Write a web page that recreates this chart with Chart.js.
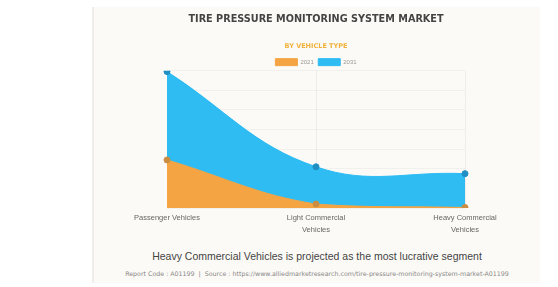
<!DOCTYPE html>
<html>
<head>
<meta charset="utf-8">
<script src="https://cdn.jsdelivr.net/npm/chart.js@4"></script>
<style>
  body { margin: 0; background: #fff; font-family: "Liberation Sans", Arial, sans-serif; }
  #card {
    position: absolute; left: 92px; top: 7px; width: 446px; height: 276px;
    background: #fcfaf6; border-left: 2px solid #f0eeea;
  }
  #wrap { position: absolute; left: 0; top: 0; width: 446px; height: 233px; }
  #note {
    position: absolute; left: 0; width: 446px; top: 243px; text-align: center;
    font-size: 10.5px; color: #444;
  }
  #src {
    position: absolute; left: 0; width: 446px; top: 263px; text-align: center;
    font-family: "DejaVu Sans", sans-serif; font-size: 6.3px; color: #888;
  }
</style>
</head>
<body>
<div id="card">
  <div id="wrap"><canvas id="tpmsChart"></canvas></div>
  <div id="note">Heavy Commercial Vehicles is projected as the most lucrative segment</div>
  <div id="src">Report Code : A01199 &nbsp;|&nbsp; Source : https://www.alliedmarketresearch.com/tire-pressure-monitoring-system-market-A01199</div>
</div>
<script>
var categories = [['Passenger Vehicles'], ['Light Commercial', 'Vehicles'], ['Heavy Commercial', 'Vehicles']];
var values2021 = [490, 40, 5];
var values2031 = [1390, 420, 350];
var seriesNames = ['2021', '2031'];

// chart.js adds 10px under a horizontal legend, the original sits a bit tighter
var tightLegend = {
    id: 'tightLegend',
    beforeLayout: function (chart) {
        var lg = chart.legend;
        if (lg && !lg._tight) {
            var fit = lg.fit;
            lg.fit = function () { fit.call(this); this.height -= 5; };
            lg._tight = true;
        }
    }
};

document.addEventListener('DOMContentLoaded', (event) => {
    var ctx = document.getElementById('tpmsChart').getContext('2d');
    var tpmsChart = new Chart(ctx, {
        type: 'line',
        data: {
            labels: categories,
            datasets: [{
                label: seriesNames[0],
                data: values2021,
                fill: 'origin',
                backgroundColor: '#f5a443',
                borderColor: '#f5a443',
                borderWidth: 1,
                pointRadius: 3,
                pointBackgroundColor: '#c98d44',
                pointBorderColor: '#c98d44',
                tension: 0.4
            }, {
                label: seriesNames[1],
                data: values2031,
                fill: 'origin',
                backgroundColor: '#2ebcf3',
                borderColor: '#2ebcf3',
                borderWidth: 1,
                pointRadius: 3,
                pointBackgroundColor: '#1f8fc4',
                pointBorderColor: '#1f8fc4',
                tension: 0.4
            }]
        },
        plugins: [tightLegend],
        options: {
            responsive: true,
            maintainAspectRatio: false,
            animation: false,
            layout: { padding: { left: 73, right: 75, top: 0, bottom: 0 } },
            plugins: {
                title: {
                    display: true,
                    text: 'TIRE PRESSURE MONITORING SYSTEM MARKET',
                    color: '#444',
                    font: { family: 'DejaVu Sans', size: 9.7, weight: 'bold' },
                    padding: { top: 7, bottom: 17 }
                },
                subtitle: {
                    display: true,
                    text: 'BY VEHICLE TYPE',
                    color: '#f0b23c',
                    font: { family: 'DejaVu Sans', size: 6.5, weight: 'bold' },
                    padding: { top: 0, bottom: 3.7 }
                },
                legend: {
                    display: true,
                    labels: {
                        boxWidth: 22,
                        boxHeight: 7,
                        padding: 4.5,
                        color: '#999',
                        font: { family: 'Liberation Sans', size: 6 }
                    }
                },
                tooltip: { enabled: false }
            },
            scales: {
                x: {
                    grid: { color: 'rgba(0,0,0,0.05)', drawTicks: false },
                    border: { display: false },
                    ticks: {
                        color: '#666',
                        maxRotation: 0,
                        padding: 4,
                        font: { family: 'Liberation Sans', size: 7.5, lineHeight: 1.6 }
                    }
                },
                y: {
                    min: 0,
                    max: 1400,
                    grid: { color: 'rgba(0,0,0,0.04)', drawTicks: false },
                    border: { display: false },
                    ticks: { display: false, stepSize: 200 }
                }
            }
        }
    });
});
</script>
</body>
</html>
